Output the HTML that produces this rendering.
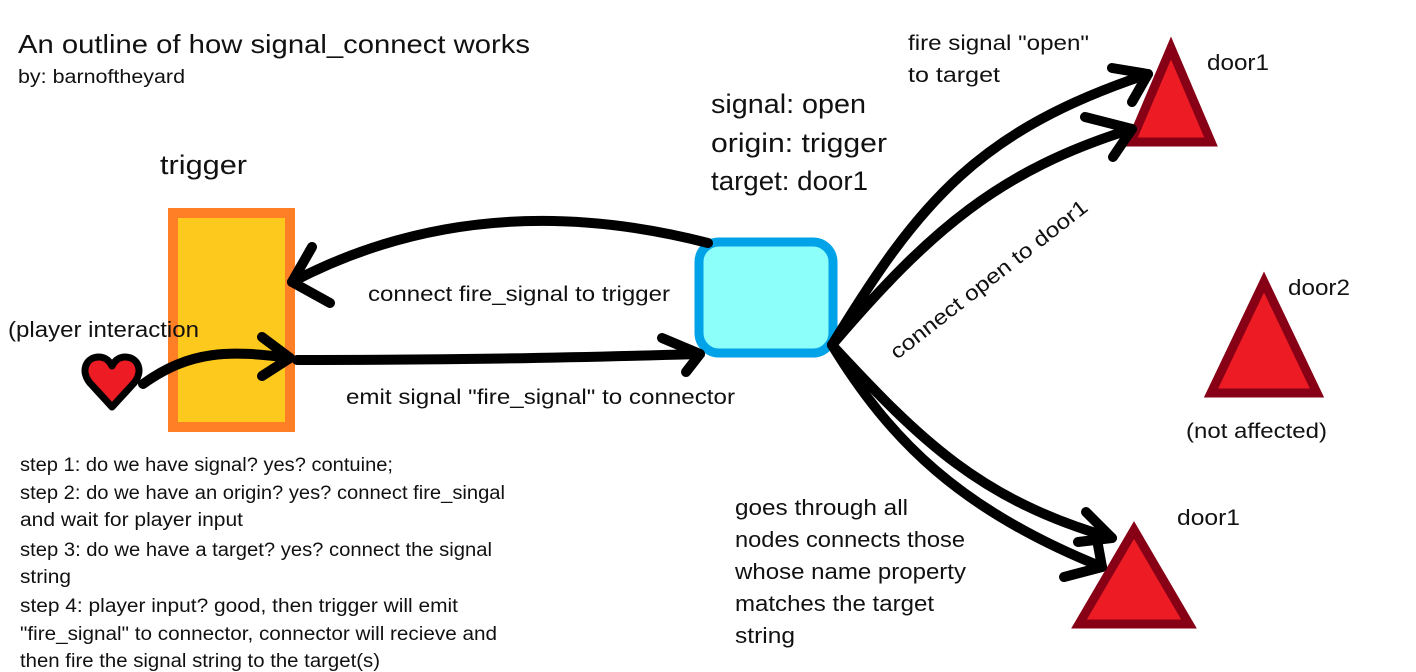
<!DOCTYPE html>
<html><head><meta charset="utf-8"><style>
html,body{margin:0;padding:0;background:#fff;}
svg{display:block;}
text{font-family:"Liberation Sans",sans-serif;fill:#111;}
</style></head><body>
<svg width="1416" height="672" viewBox="0 0 1416 672" xmlns="http://www.w3.org/2000/svg">
<rect width="1416" height="672" fill="#fff"/>
<text x="18" y="53" font-size="26" textLength="512" lengthAdjust="spacingAndGlyphs">An outline of how signal_connect works</text>
<text x="18" y="83" font-size="19" textLength="167" lengthAdjust="spacingAndGlyphs">by: barnoftheyard</text>
<text x="160" y="174" font-size="27" textLength="87" lengthAdjust="spacingAndGlyphs">trigger</text>
<rect x="173" y="213" width="117" height="214" fill="#fdc91c" stroke="#ff7f27" stroke-width="10"/>
<rect x="699" y="242" width="134" height="111" rx="20" fill="#8cfffb" stroke="#00a2e8" stroke-width="9"/>
<text font-size="27" x="711" y="113" textLength="155" lengthAdjust="spacingAndGlyphs">signal: open</text>
<text font-size="27" x="711" y="152" textLength="176" lengthAdjust="spacingAndGlyphs">origin: trigger</text>
<text font-size="27" x="711" y="190" textLength="157" lengthAdjust="spacingAndGlyphs">target: door1</text>
<text font-size="21" x="908" y="50" textLength="181" lengthAdjust="spacingAndGlyphs">fire signal "open"</text>
<text font-size="21" x="908" y="82" textLength="92" lengthAdjust="spacingAndGlyphs">to target</text>
<g fill="#ed1c24" stroke="#880015" stroke-width="9" stroke-linejoin="miter">
<polygon points="1171,48 1131,142 1211,142"/>
<polygon points="1264,282 1211,393 1317,393"/>
<polygon points="1134,530 1079,624 1189,624"/>
</g>
<text x="1207" y="70" font-size="22" textLength="62" lengthAdjust="spacingAndGlyphs">door1</text>
<text x="1288" y="295" font-size="22" textLength="62" lengthAdjust="spacingAndGlyphs">door2</text>
<text x="1186" y="438" font-size="21" textLength="141" lengthAdjust="spacingAndGlyphs">(not affected)</text>
<text x="1177" y="525" font-size="22" textLength="63" lengthAdjust="spacingAndGlyphs">door1</text>
<text x="0" y="0" font-size="21" transform="translate(897,360) rotate(-38)" textLength="244" lengthAdjust="spacingAndGlyphs">connect open to door1</text>
<text x="368" y="301" font-size="21" textLength="302" lengthAdjust="spacingAndGlyphs">connect fire_signal to trigger</text>
<text x="346" y="404" font-size="21" textLength="389" lengthAdjust="spacingAndGlyphs">emit signal "fire_signal" to connector</text>
<text x="8" y="337" font-size="22" textLength="191" lengthAdjust="spacingAndGlyphs">(player interaction</text>
<g font-size="19">
<text x="20" y="471" textLength="373" lengthAdjust="spacingAndGlyphs">step 1: do we have signal? yes? contuine;</text>
<text x="20" y="499" textLength="485" lengthAdjust="spacingAndGlyphs">step 2: do we have an origin? yes? connect fire_singal</text>
<text x="20" y="526" textLength="223" lengthAdjust="spacingAndGlyphs">and wait for player input</text>
<text x="20" y="556" textLength="472" lengthAdjust="spacingAndGlyphs">step 3: do we have a target? yes? connect the signal</text>
<text x="20" y="583" textLength="51" lengthAdjust="spacingAndGlyphs">string</text>
<text x="20" y="612" textLength="438" lengthAdjust="spacingAndGlyphs">step 4: player input? good, then trigger will emit</text>
<text x="20" y="640" textLength="477" lengthAdjust="spacingAndGlyphs">"fire_signal" to connector, connector will recieve and</text>
<text x="20" y="667" textLength="360" lengthAdjust="spacingAndGlyphs">then fire the signal string to the target(s)</text>
</g>
<g font-size="22">
<text x="735" y="515" textLength="173" lengthAdjust="spacingAndGlyphs">goes through all</text>
<text x="735" y="547" textLength="230" lengthAdjust="spacingAndGlyphs">nodes connects those</text>
<text x="735" y="579" textLength="231" lengthAdjust="spacingAndGlyphs">whose name property</text>
<text x="735" y="611" textLength="199" lengthAdjust="spacingAndGlyphs">matches the target</text>
<text x="735" y="643" textLength="60" lengthAdjust="spacingAndGlyphs">string</text>
</g>
<path d="M112,407 L90,383 C80,371 86,357 99,357 C106,357 110,362 112,366 C114,362 118,357 125,357 C138,357 144,371 134,383 Z" fill="#ed1c24" stroke="#000" stroke-width="7" stroke-linejoin="round"/>
<g fill="none" stroke="#000" stroke-width="10" stroke-linecap="round" stroke-linejoin="round">
<path d="M708,243 C560,205 420,215 292,282"/>
<path d="M312,247 L292,282 L330,303"/>
<path d="M143,384 C190,350 230,350 290,358"/>
<path d="M262,337 L290,358 L262,376"/>
<path d="M297,360 C450,360 560,358 700,354"/>
<path d="M662,338 L700,354 L686,372"/>
<path d="M832,345 C920,200 980,130 1148,74"/>
<path d="M1112,68 L1148,74 L1132,102"/>
<path d="M832,345 C930,230 1000,170 1132,129"/>
<path d="M1085,117 L1132,129 L1113,157"/>
<path d="M832,345 C920,440 980,500 1112,538"/>
<path d="M1086,512 L1112,538 L1078,542"/>
<path d="M832,345 C890,440 960,510 1102,567"/>
<path d="M1096,534 L1102,567 L1064,577"/>
</g>
</svg>
</body></html>
